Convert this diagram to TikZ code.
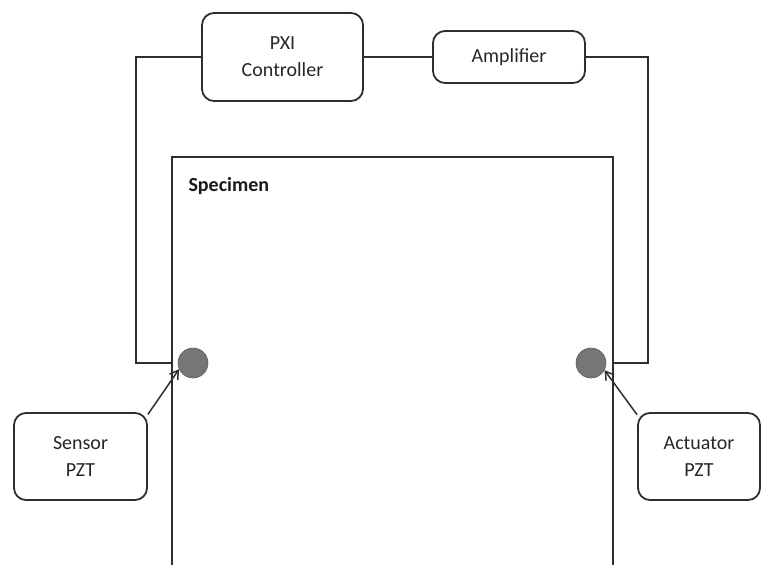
\documentclass[tikz,border=0pt]{standalone}
\usepackage{fontspec}
\setmainfont{Carlito}
\usetikzlibrary{arrows.meta, positioning}
\definecolor{wirecol}{HTML}{2E2E2E}
\definecolor{pztgray}{HTML}{767676}

\begin{document}
\begin{tikzpicture}[x=1pt, y=-1pt,
    box/.style={draw=wirecol, line width=1.8pt, rounded corners=12pt, align=center,
      font=\fontsize{20}{27}\selectfont, text=black!85, inner sep=0pt},
    wire/.style={draw=wirecol, line width=1.7pt},
    pzt/.style={circle, fill=pztgray, draw=pztgray!80!black, line width=0.6pt,
      minimum size=30pt, inner sep=0pt},
    pointer/.style={wire, line width=1.5pt, -{Straight Barb[length=8pt, width=10pt]}}]
        \useasboundingbox (0,0) rectangle (762,565);
        \node[box, minimum width=161pt, minimum height=88pt] (ctrl) at (282.5,57) {PXI\\Controller};
        \node[box, minimum width=152pt, minimum height=52pt] (amp) at (509,57) {Amplifier};
        \node[box, minimum width=133pt, minimum height=87pt] (sensor) at (80.5,456.5) {Sensor\\PZT};
        \node[box, minimum width=122pt, minimum height=87pt] (actuator) at (699,456.5) {Actuator\\PZT};
        % specimen plate, open at the bottom
        \draw[wire] (172,565) |- (613,157) -- (613,565);
        \node[font=\fontsize{20}{24}\selectfont\bfseries, text=black!90, anchor=west] (spec) at (185,186) {Specimen};
        \node[pzt] (sdot) at (193,363) {};
        \node[pzt] (adot) at (591,363) {};
        % wiring
        \coordinate (lcorner) at (136,363);
        \coordinate (ljoin) at (172,363);
        \coordinate (rcorner) at (648,363);
        \coordinate (rjoin) at (613,363);
        \draw[wire] (ctrl.west) -| (lcorner) -- (ljoin);
        \draw[wire] (ctrl.east) -- (amp.west);
        \draw[wire] (amp.east) -| (rcorner) -- (rjoin);
        \draw[pointer] (sensor.32) -- (sdot.204);
        \draw[pointer] (actuator.146) -- (adot.-28);
      \end{tikzpicture}
\end{document}
